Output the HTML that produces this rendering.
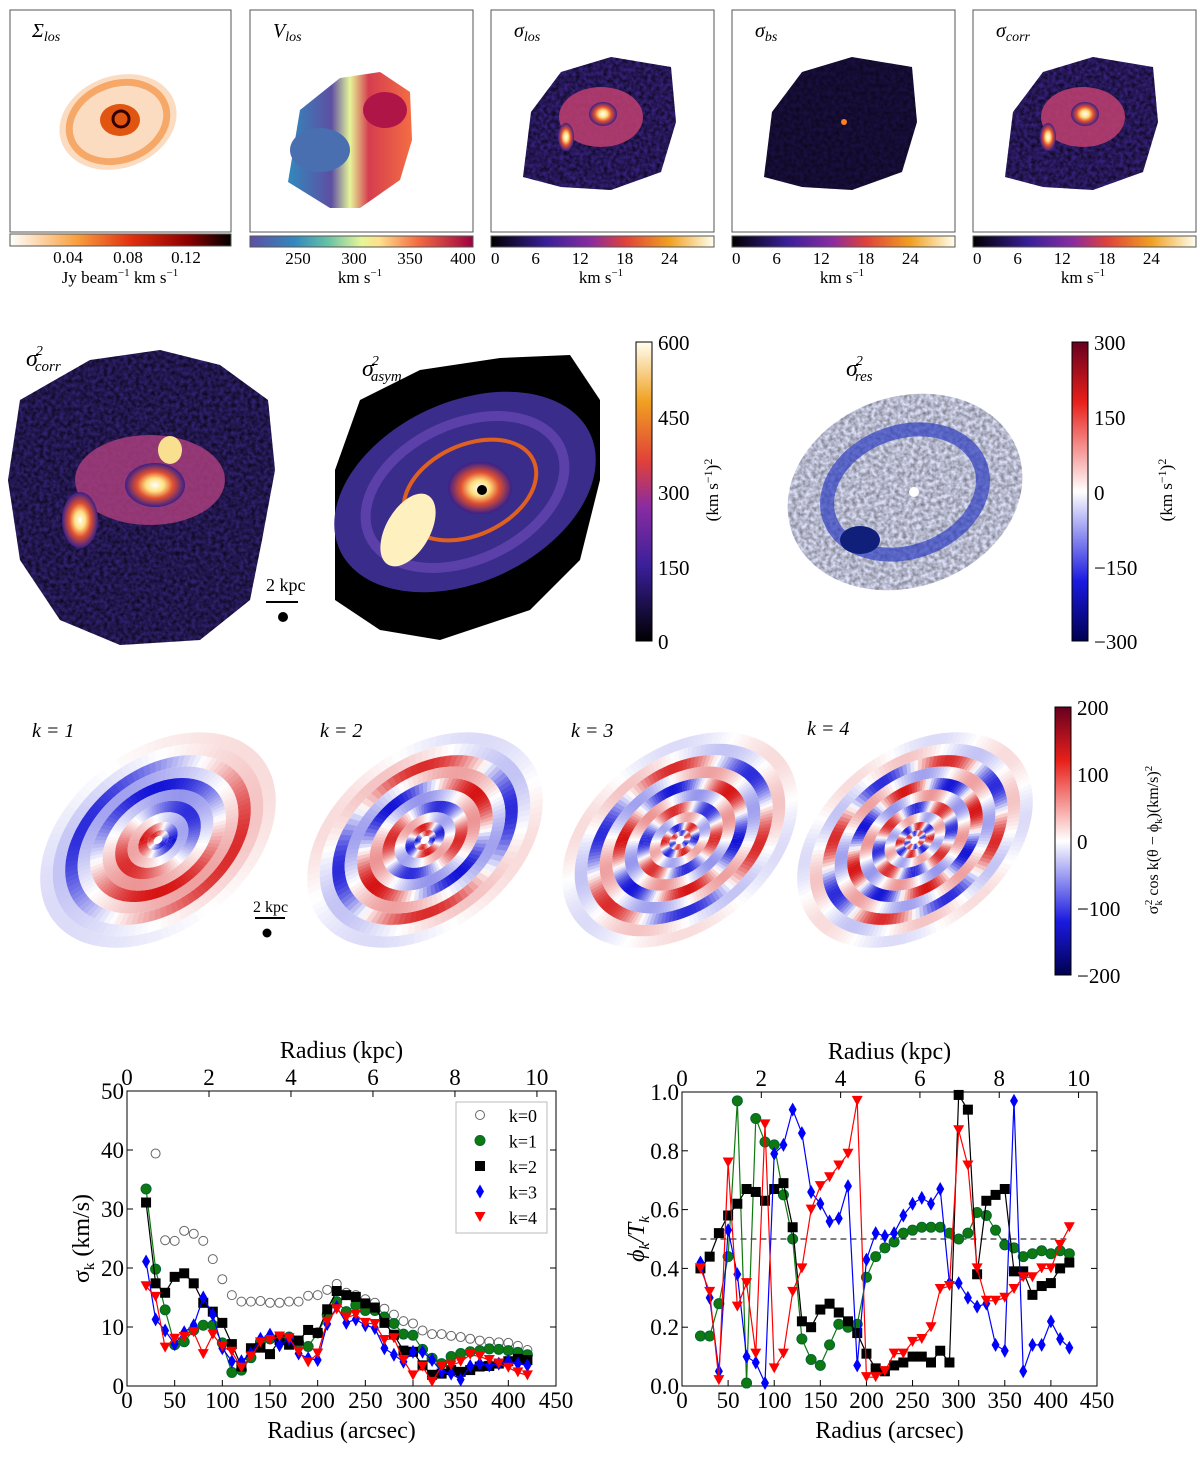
<!DOCTYPE html>
<html><head><meta charset="utf-8">
<style>
body{margin:0;background:#fff;}
svg{display:block;font-family:"Liberation Serif",serif;}
</style></head>
<body>
<svg id="fig" width="1200" height="1458" viewBox="0 0 1200 1458" xmlns="http://www.w3.org/2000/svg">
<defs>
<linearGradient id="gOr" x1="0" x2="1"><stop offset="0" stop-color="#fff"/><stop offset="0.3" stop-color="#f8a040"/><stop offset="0.55" stop-color="#e03010"/><stop offset="0.8" stop-color="#900000"/><stop offset="1" stop-color="#000"/></linearGradient>
<linearGradient id="gSp" x1="0" x2="1"><stop offset="0" stop-color="#5e4fa2"/><stop offset="0.2" stop-color="#3288bd"/><stop offset="0.35" stop-color="#66c2a5"/><stop offset="0.5" stop-color="#e6f598"/><stop offset="0.58" stop-color="#fee08b"/><stop offset="0.75" stop-color="#f46d43"/><stop offset="1" stop-color="#9e0142"/></linearGradient>
<linearGradient id="gCm" x1="0" x2="1"><stop offset="0" stop-color="#000"/><stop offset="0.25" stop-color="#3a1f9a"/><stop offset="0.45" stop-color="#8a2ca0"/><stop offset="0.6" stop-color="#e0403a"/><stop offset="0.8" stop-color="#f0a020"/><stop offset="1" stop-color="#fffff0"/></linearGradient>
<linearGradient id="gCmV" x1="0" x2="0" y1="1" y2="0"><stop offset="0" stop-color="#000"/><stop offset="0.25" stop-color="#3a1f9a"/><stop offset="0.45" stop-color="#8a2ca0"/><stop offset="0.6" stop-color="#e0403a"/><stop offset="0.8" stop-color="#f0a020"/><stop offset="1" stop-color="#fffff0"/></linearGradient>
<linearGradient id="gRb" x1="0" x2="0" y1="0" y2="1"><stop offset="0" stop-color="#67001f"/><stop offset="0.2" stop-color="#e8201a"/><stop offset="0.5" stop-color="#fff"/><stop offset="0.8" stop-color="#1a1ae0"/><stop offset="1" stop-color="#000050"/></linearGradient>
<linearGradient id="gVl" x1="0" x2="1"><stop offset="0" stop-color="#3288bd"/><stop offset="0.35" stop-color="#5e4fa2"/><stop offset="0.5" stop-color="#e6f598"/><stop offset="0.65" stop-color="#d53e4f"/><stop offset="1" stop-color="#f46d43"/></linearGradient>
<radialGradient id="gCore" cx="0.5" cy="0.5" r="0.5"><stop offset="0" stop-color="#fff"/><stop offset="0.3" stop-color="#ffe080"/><stop offset="0.6" stop-color="#e05030"/><stop offset="1" stop-color="#3a1f8a"/></radialGradient>
<filter id="noise"><feTurbulence type="fractalNoise" baseFrequency="0.25" numOctaves="2" seed="3"/><feColorMatrix values="0 0 0 0 0  0 0 0 0 0  0 0 0 0 0  0 0 0 -1.2 0.9"/><feComposite in2="SourceGraphic" operator="in"/></filter>
</defs>

<g>
  <g>
    <rect x="10" y="10" width="221" height="222" fill="#fff" stroke="#555"/>
    <text x="32" y="37" font-size="20" font-style="italic">Σ<tspan font-size="14" dy="4">los</tspan></text>
    <ellipse cx="118" cy="122" rx="60" ry="46" fill="#fcdcc0" transform="rotate(-20 118 122)"/>
    <ellipse cx="118" cy="122" rx="50" ry="38" fill="none" stroke="#f5a868" stroke-width="7" transform="rotate(-20 118 122)"/>
    <ellipse cx="120" cy="120" rx="20" ry="16" fill="#e05510"/>
    <ellipse cx="121" cy="119" rx="8" ry="8" fill="none" stroke="#300" stroke-width="3"/>
    <rect x="10" y="234" width="221" height="12" fill="url(#gOr)" stroke="#555"/>
    <text x="68" y="263" font-size="17" text-anchor="middle">0.04</text><text x="128" y="263" font-size="17" text-anchor="middle">0.08</text><text x="186" y="263" font-size="17" text-anchor="middle">0.12</text>
    <text x="120" y="283" font-size="17" text-anchor="middle">Jy beam<tspan font-size="11" dy="-7">−1</tspan><tspan dy="7"> km s</tspan><tspan font-size="11" dy="-7">−1</tspan></text>
  </g>
  <g>
    <rect x="250" y="10" width="223" height="222" fill="#fff" stroke="#555"/>
    <text x="273" y="37" font-size="20" font-style="italic">V<tspan font-size="14" dy="4">los</tspan></text>
    <path d="M288,182 L300,110 L340,78 L380,72 L410,92 L412,140 L400,180 L360,208 L330,208 Z" fill="url(#gVl)"/>
    <ellipse cx="320" cy="150" rx="30" ry="22" fill="#4a6fb0"/>
    <ellipse cx="385" cy="110" rx="22" ry="18" fill="#b01548"/>
    <rect x="250" y="236" width="223" height="11" fill="url(#gSp)" stroke="#555"/>
    <text x="298" y="264" font-size="17" text-anchor="middle">250</text><text x="354" y="264" font-size="17" text-anchor="middle">300</text><text x="410" y="264" font-size="17" text-anchor="middle">350</text><text x="463" y="264" font-size="17" text-anchor="middle">400</text>
    <text x="360" y="283" font-size="17" text-anchor="middle">km s<tspan font-size="11" dy="-7">−1</tspan></text>
  </g>
</g>
<g id="cmpanels"></g>

<g>
  <g>
    <path d="M20,400 L90,360 L160,350 L220,365 L268,400 L275,470 L262,540 L250,600 L200,640 L120,645 L60,620 L20,560 L8,480 Z" fill="#30206e"/>
    <path d="M20,400 L90,360 L160,350 L220,365 L268,400 L275,470 L262,540 L250,600 L200,640 L120,645 L60,620 L20,560 L8,480 Z" fill="#6040a0" filter="url(#noise)"/>
    <ellipse cx="150" cy="480" rx="75" ry="45" fill="#b04080" opacity="0.8"/>
    <ellipse cx="155" cy="485" rx="30" ry="22" fill="url(#gCore)"/>
    <ellipse cx="80" cy="520" rx="18" ry="28" fill="url(#gCore)"/>
    <ellipse cx="170" cy="450" rx="12" ry="14" fill="#f8e090"/>
    <text x="26" y="366" font-size="24" font-style="italic">σ<tspan font-size="14" dy="-11" dx="-2">2</tspan><tspan font-size="15" dy="16" dx="-8">corr</tspan></text>
    <text x="266" y="591" font-size="18">2 kpc</text>
    <line x1="266" y1="602" x2="298" y2="602" stroke="#000" stroke-width="2"/>
    <circle cx="283" cy="617" r="5" fill="#000"/>
  </g>
  <g>
    <path d="M335,470 L360,400 L420,370 L500,358 L570,355 L600,400 L600,480 L580,560 L530,610 L440,640 L380,630 L335,600 Z" fill="#000"/>
    <ellipse cx="465" cy="492" rx="138" ry="90" fill="#3a2c8a" transform="rotate(-25 465 492)"/>
    <ellipse cx="465" cy="492" rx="105" ry="68" fill="none" stroke="#5a40a8" stroke-width="10" transform="rotate(-25 465 492)"/>
    <ellipse cx="470" cy="490" rx="70" ry="45" fill="none" stroke="#e06020" stroke-width="4" transform="rotate(-25 470 490)"/>
    <ellipse cx="480" cy="488" rx="32" ry="26" fill="url(#gCore)"/>
    <circle cx="482" cy="490" r="5" fill="#000"/>
    <ellipse cx="408" cy="530" rx="22" ry="40" fill="#fff0c0" transform="rotate(30 408 530)"/>
    <text x="362" y="376" font-size="24" font-style="italic">σ<tspan font-size="14" dy="-11" dx="-2">2</tspan><tspan font-size="15" dy="16" dx="-8">asym</tspan></text>
  </g>
  <g>
    <rect x="636" y="342" width="16" height="299" fill="url(#gCmV)" stroke="#000"/>
    <text x="658" y="350" font-size="21">600</text><text x="658" y="425" font-size="21">450</text><text x="658" y="500" font-size="21">300</text><text x="658" y="575" font-size="21">150</text><text x="658" y="649" font-size="21">0</text>
    <text transform="translate(718 490) rotate(-90)" font-size="17" text-anchor="middle">(km s<tspan font-size="12" dy="-6">−1</tspan><tspan dy="6">)</tspan><tspan font-size="12" dy="-6">2</tspan></text>
  </g>
  <g>
    <ellipse cx="905" cy="492" rx="120" ry="95" fill="#dde0f8" transform="rotate(-20 905 492)"/>
    <ellipse cx="905" cy="492" rx="120" ry="95" fill="#e04040" filter="url(#noise)" opacity="0.6" transform="rotate(-20 905 492)"/>
    <ellipse cx="905" cy="492" rx="80" ry="60" fill="none" stroke="#3040c0" stroke-width="14" opacity="0.7" transform="rotate(-20 905 492)"/>
    <ellipse cx="860" cy="540" rx="20" ry="14" fill="#10207a"/>
    <circle cx="914" cy="492" r="5" fill="#fff"/>
    <text x="846" y="376" font-size="24" font-style="italic">σ<tspan font-size="14" dy="-11" dx="-2">2</tspan><tspan font-size="15" dy="16" dx="-8">res</tspan></text>
  </g>
  <g>
    <rect x="1072" y="342" width="16" height="299" fill="url(#gRb)" stroke="#000"/>
    <text x="1094" y="350" font-size="21">300</text><text x="1094" y="425" font-size="21">150</text><text x="1094" y="500" font-size="21">0</text><text x="1094" y="575" font-size="21">−150</text><text x="1094" y="649" font-size="21">−300</text>
    <text transform="translate(1172 490) rotate(-90)" font-size="17" text-anchor="middle">(km s<tspan font-size="12" dy="-6">−1</tspan><tspan dy="6">)</tspan><tspan font-size="12" dy="-6">2</tspan></text>
  </g>
</g>

<g id="krow"></g>
<g font-size="20" font-style="italic">
  <text x="32" y="737">k = 1</text><text x="320" y="737">k = 2</text><text x="571" y="737">k = 3</text><text x="807" y="735">k = 4</text>
</g>
<g>
  <text x="253" y="912" font-size="16">2 kpc</text>
  <line x1="255" y1="918" x2="285" y2="918" stroke="#000" stroke-width="2"/>
  <circle cx="267" cy="933" r="4.5" fill="#000"/>
</g>
<g>
  <rect x="1055" y="707" width="16" height="268" fill="url(#gRb)" stroke="#000"/>
  <text x="1077" y="715" font-size="21">200</text><text x="1077" y="782" font-size="21">100</text><text x="1077" y="849" font-size="21">0</text><text x="1077" y="916" font-size="21">−100</text><text x="1077" y="983" font-size="21">−200</text>
  <text transform="translate(1158 840) rotate(-90)" font-size="16" text-anchor="middle">σ<tspan font-size="11" dy="4">k</tspan><tspan font-size="11" dy="-10" dx="-5">2</tspan><tspan dy="6"> cos k(θ − ϕ</tspan><tspan font-size="11" dy="4">k</tspan><tspan dy="-4">)(km/s)</tspan><tspan font-size="11" dy="-6">2</tspan></text>
</g>

<g id="plots"></g>
</svg>
<script>
var NS="http://www.w3.org/2000/svg";
function mk(tag,attrs,parent){var e=document.createElementNS(NS,tag);for(var k in attrs)e.setAttribute(k,attrs[k]);parent.appendChild(e);return e;}

var radii=[20,30,40,50,60,70,80,90,100,110,120,130,140,150,160,170,180,190,200,210,220,230,240,250,260,270,280,290,300,310,320,330,340,350,360,370,380,390,400,410,420];
var sigK0=[null,39.4,24.7,24.6,26.3,25.8,24.6,21.5,18.1,15.4,14.3,14.3,14.4,14.1,14.1,14.3,14.3,15.3,15.4,16.3,17.3,15.8,15.4,14.7,14.1,13.1,12.1,11.0,10.6,9.4,8.8,8.8,8.5,8.3,8.0,7.7,7.5,7.4,7.3,6.8,6.1];
var sigK1=[33.4,19.8,12.9,7.0,7.5,9.5,10.3,10.3,7.3,2.3,2.7,4.8,7.5,8.0,8.3,8.3,7.4,6.7,9.0,12.1,14.3,12.6,13.7,12.8,12.8,11.7,10.6,8.8,8.6,6.2,4.7,3.8,5.0,5.5,5.8,6.0,6.3,6.2,6.0,5.7,5.3];
var sigK2=[31.1,17.4,15.8,18.5,19.1,17.4,14.1,12.6,10.7,7.1,3.3,6.4,6.5,5.4,7.8,7.0,7.7,9.5,9.0,13.0,16.1,15.4,15.1,14.0,13.3,10.7,8.7,6.0,5.8,3.5,1.9,2.1,2.7,2.4,2.7,3.3,3.4,3.8,4.2,4.6,4.4];
var sigK3=[21.1,11.3,9.4,7.1,9.1,10.3,15.0,12.1,6.4,4.2,4.2,5.5,8.0,8.7,6.9,8.0,5.5,4.7,4.4,10.5,13.4,10.7,11.3,10.3,9.8,6.4,5.3,4.1,5.8,5.8,4.4,2.4,2.1,1.1,3.4,3.8,3.5,3.8,4.2,3.8,3.5];
var sigK4=[16.9,15.1,6.5,8.0,8.3,9.1,5.4,8.7,6.7,5.8,3.1,5.0,7.4,7.8,8.4,8.1,5.8,4.0,5.5,10.9,13.0,11.6,12.1,10.7,10.5,7.8,8.1,4.4,1.8,3.3,0.7,3.3,3.5,4.1,5.3,5.0,4.4,3.8,3.1,2.3,1.8];
var phK1=[0.17,0.17,0.28,0.44,0.97,0.01,0.91,0.83,0.82,0.65,0.50,0.16,0.09,0.07,0.14,0.21,0.20,0.21,0.37,0.44,0.47,0.49,0.52,0.53,0.54,0.54,0.54,0.52,0.50,0.52,0.59,0.58,0.53,0.48,0.47,0.44,0.45,0.46,0.45,0.46,0.45];
var phK2=[0.40,0.44,0.52,0.58,0.62,0.67,0.66,0.63,0.67,0.69,0.54,0.22,0.20,0.26,0.28,0.25,0.22,0.18,0.11,0.06,0.05,0.07,0.08,0.10,0.10,0.08,0.12,0.08,0.99,0.94,0.38,0.63,0.65,0.67,0.39,0.39,0.31,0.34,0.35,0.40,0.42];
var phK3=[0.42,0.30,0.05,0.53,0.38,0.10,0.08,0.01,0.79,0.82,0.94,0.86,0.66,0.62,0.56,0.57,0.68,0.07,0.43,0.52,0.51,0.52,0.58,0.62,0.64,0.62,0.67,0.35,0.35,0.30,0.27,0.28,0.14,0.12,0.97,0.05,0.14,0.14,0.22,0.16,0.13];
var phK4=[0.40,0.32,0.02,0.76,0.27,0.35,0.11,0.89,0.06,0.11,0.32,0.40,0.60,0.68,0.71,0.75,0.79,0.97,0.03,0.03,0.05,0.11,0.11,0.15,0.16,0.20,0.33,0.34,0.87,0.75,0.40,0.29,0.29,0.30,0.33,0.37,0.37,0.40,0.40,0.48,0.54];
var xTicks=[0,50,100,150,200,250,300,350,400,450];
var kpcTicks=[0,2,4,6,8,10];
var sigTicks=[0,10,20,30,40,50];
var phTicks=[0.0,0.2,0.4,0.6,0.8,1.0];
var legendLabels=["k=0","k=1","k=2","k=3","k=4"];
var kpcPerArcsec=10/430;

(function(){
  var g=document.getElementById('cmpanels');
  var xs=[491,732,973],names=['los','bs','corr'];
  var cbt=[0,6,12,18,24];
  for(var i=0;i<3;i++){
    var x0=xs[i];
    var p=mk('g',{},g);
    
    
    mk('rect',{x:x0,y:10,width:223,height:222,fill:'#fff',stroke:'#555'},p);
    var cx=x0+110,cy=122;
    var path='M'+(cx-78)+','+(cy+55)+' L'+(cx-70)+','+(cy-10)+' L'+(cx-40)+','+(cy-50)+' L'+(cx+10)+','+(cy-65)+' L'+(cx+70)+','+(cy-55)+' L'+(cx+75)+','+(cy)+' L'+(cx+60)+','+(cy+50)+' L'+(cx+10)+','+(cy+68)+' L'+(cx-40)+','+(cy+65)+' Z';
    mk('path',{d:path,fill:i==1?'#1a1040':'#35207a'},p);
    if(i!=1){
      mk('path',{d:path,fill:'#7040b0',filter:'url(#noise)'},p);
      mk('ellipse',{cx:cx,cy:cy-5,rx:42,ry:30,fill:'#c04070',opacity:0.85},p);
      mk('ellipse',{cx:cx+2,cy:cy-8,rx:14,ry:12,fill:'url(#gCore)'},p);
      mk('ellipse',{cx:cx-35,cy:cy+15,rx:8,ry:14,fill:'url(#gCore)'},p);
    } else {
      mk('path',{d:path,fill:'#30308a',filter:'url(#noise)',opacity:0.7},p);
      mk('circle',{cx:cx+2,cy:cy,r:3,fill:'#ff8020'},p);
    }
    var t=mk('text',{x:x0+23,y:37,'font-size':20,'font-style':'italic'},p);t.textContent='σ';
    var s=mk('tspan',{'font-size':14,dy:4},t);s.textContent=names[i];
    mk('rect',{x:x0,y:236,width:223,height:11,fill:'url(#gCm)',stroke:'#555'},p);
    for(var j=0;j<cbt.length;j++){
      var tt=mk('text',{x:x0+cbt[j]/30*223,y:264,'font-size':17,'text-anchor':j==0?'start':'middle'},p);tt.textContent=cbt[j];
    }
    var u=mk('text',{x:x0+110,y:283,'font-size':17,'text-anchor':'middle'},p);u.textContent='km s';
    var us=mk('tspan',{'font-size':11,dy:-7},u);us.textContent='−1';
  }
})();

(function(){
  var g=document.getElementById('krow');
  var centers=[[158,840],[425,840],[680,840],[915,840]];
  for(var m=0;m<4;m++){
    var k=m+1,c=centers[m];
    var gg=mk('g',{transform:'translate('+c[0]+' '+c[1]+') rotate(-38) scale(1,0.68)'},g);
    
    
    var R=[132,118,104,90,76,62,48,34,22,12];
    var amp=[0.15,0.25,0.9,0.4,1,0.45,0.9,0.4,1,1];
    for(var ri=0;ri<R.length;ri++){
      var r=R[ri],n=k>2?144:96;
      var rr=ri<R.length-1?R[ri+1]:5;
      for(var s=0;s<n;s++){
        var a0=s/n*2*Math.PI,a1=(s+1.08)/n*2*Math.PI;
        var v=Math.cos(k*(a0-ri*0.5-m))*amp[ri];
        var col=v>0?'rgb('+Math.round(255-40*v)+','+Math.round(255-235*v)+','+Math.round(255-235*v)+')':'rgb('+Math.round(255+235*v)+','+Math.round(255+235*v)+','+Math.round(255+40*v)+')';
        var d='M'+(r*Math.cos(a0))+','+(r*Math.sin(a0))+' A'+r+','+r+' 0 0 1 '+(r*Math.cos(a1))+','+(r*Math.sin(a1))+' L'+(rr*Math.cos(a1))+','+(rr*Math.sin(a1))+' A'+rr+','+rr+' 0 0 0 '+(rr*Math.cos(a0))+','+(rr*Math.sin(a0))+' Z';
        mk('path',{d:d,fill:col},gg);
      }
    }
    mk('circle',{cx:0,cy:0,r:4,fill:'#fff'},gg);
  }
})();

(function(){
  var root=document.getElementById('plots');
  function plot(name,X0,X1,Y0,Y1,ymax,series,yTicks,yTickFmt,yLabel,dashed,legend){
    var g=mk('g',{},root);
    
    
    function sx(v){return X0+(v/450)*(X1-X0);}
    function sy(v){return Y1-(v/ymax)*(Y1-Y0);}
    function skx(v){return sx(v/kpcPerArcsec);}
    mk('rect',{x:X0,y:Y0,width:X1-X0,height:Y1-Y0,fill:'#fff',stroke:'#000','stroke-width':1},g);
    xTicks.forEach(function(t){
      var x=sx(t);
      mk('line',{x1:x,y1:Y1,x2:x,y2:Y1-6,stroke:'#000'},g);
      var tt=mk('text',{x:x,y:Y1+22,'font-size':23,'text-anchor':'middle'},g);tt.textContent=t;
      
      
    });
    kpcTicks.forEach(function(t){
      var x=skx(t);
      mk('line',{x1:x,y1:Y0,x2:x,y2:Y0+6,stroke:'#000'},g);
      var tt=mk('text',{x:x,y:Y0-6,'font-size':23,'text-anchor':'middle'},g);tt.textContent=t;
      
      
    });
    yTicks.forEach(function(t){
      var y=sy(t);
      mk('line',{x1:X0,y1:y,x2:X0+6,y2:y,stroke:'#000'},g);
      mk('line',{x1:X1,y1:y,x2:X1-6,y2:y,stroke:'#000'},g);
      var tt=mk('text',{x:X0-3,y:y+8,'font-size':23,'text-anchor':'end'},g);tt.textContent=yTickFmt(t);
      
      
    });
    var xl=mk('text',{x:(X0+X1)/2,y:Y1+52,'font-size':24,'text-anchor':'middle'},g);xl.textContent='Radius (arcsec)';
    
    
    var tl=mk('text',{x:(X0+X1)/2,y:Y0-33,'font-size':24,'text-anchor':'middle'},g);tl.textContent='Radius (kpc)';
    
    
    var yl=mk('text',{transform:'translate('+(X0-38)+' '+((Y0+Y1)/2)+') rotate(-90)','font-size':24,'text-anchor':'middle'},g);
    
    
    yLabel(yl);
    if(dashed!==null){
      var dl=mk('line',{x1:sx(20),y1:sy(dashed),x2:sx(420),y2:sy(dashed),stroke:'#000','stroke-dasharray':'6,4'},g);
      
      
    }
    series.forEach(function(s){
      var sg=mk('g',{},g);
      
      
      if(s.line){
        var pts=[];
        s.vals.forEach(function(v,i){if(v!==null)pts.push(sx(radii[i])+','+sy(v));});
        mk('polyline',{points:pts.join(' '),fill:'none',stroke:s.color,'stroke-width':1.2},sg);
      }
      s.vals.forEach(function(v,i){
        if(v===null)return;
        var m=marker(s.shape,sx(radii[i]),sy(v),s.color,sg);
        
        
      });
    });
    if(legend){
      var lg=mk('g',{},g);
      
      
      mk('rect',{x:456,y:1102,width:91,height:131,fill:'#fff',stroke:'#bbb'},lg);
      series.forEach(function(s,i){
        var y=1115+i*25.5;
        var le=mk('g',{},lg);
        
        
        marker(s.shape,480,y,s.color,le);
        var t=mk('text',{x:537,y:y+7,'font-size':18,'text-anchor':'end'},le);t.textContent=legendLabels[i];
      });
    }
  }
  function marker(shape,x,y,c,p){
    if(shape=='oc')return mk('circle',{cx:x,cy:y,r:4.5,fill:'#fff',stroke:'#666'},p);
    if(shape=='c')return mk('circle',{cx:x,cy:y,r:5,fill:c,stroke:'#063'},p);
    if(shape=='s')return mk('rect',{x:x-5,y:y-5,width:10,height:10,fill:c},p);
    if(shape=='d')return mk('polygon',{points:x+','+(y-7)+' '+(x+4)+','+y+' '+x+','+(y+7)+' '+(x-4)+','+y,fill:c},p);
    return mk('polygon',{points:(x-5.5)+','+(y-5)+' '+(x+5.5)+','+(y-5)+' '+x+','+(y+5),fill:c},p);
  }
  var sSeries=[
    {name:'k0',vals:sigK0,color:'#fff',shape:'oc',line:false},
    {name:'k1',vals:sigK1,color:'#107810',shape:'c',line:true},
    {name:'k2',vals:sigK2,color:'#000',shape:'s',line:true},
    {name:'k3',vals:sigK3,color:'#0000ff',shape:'d',line:true},
    {name:'k4',vals:sigK4,color:'#ff0000',shape:'t',line:true}];
  plot('sigma-k-plot',127,556,1091,1386,50,sSeries,sigTicks,function(t){return t;},function(el){
    el.textContent='σ';
    var s=mk('tspan',{'font-size':15,dy:5},el);s.textContent='k';
    var s2=mk('tspan',{dy:-5},el);s2.textContent=' (km/s)';
  },null,true);
  var pSeries=[
    {name:'k1',vals:phK1,color:'#107810',shape:'c',line:true},
    {name:'k2',vals:phK2,color:'#000',shape:'s',line:true},
    {name:'k3',vals:phK3,color:'#0000ff',shape:'d',line:true},
    {name:'k4',vals:phK4,color:'#ff0000',shape:'t',line:true}];
  plot('phase-plot',682,1097,1092,1386,1.0,pSeries,phTicks,function(t){return t.toFixed(1);},function(el){
    el.setAttribute('font-style','italic');
    el.textContent='ϕ';
    var s=mk('tspan',{'font-size':15,dy:5},el);s.textContent='k';
    var s2=mk('tspan',{dy:-5},el);s2.textContent='/T';
    var s3=mk('tspan',{'font-size':15,dy:5},el);s3.textContent='k';
  },0.5,false);
})();
</script>
</body></html>
